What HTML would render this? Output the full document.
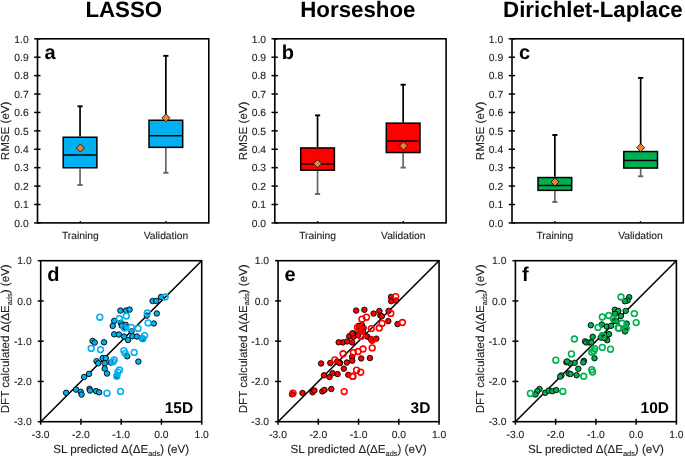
<!DOCTYPE html>
<html><head><meta charset="utf-8"><title>Figure</title>
<style>html,body{margin:0;padding:0;background:#fff;}body{width:685px;height:456px;overflow:hidden;}svg{display:block;will-change:transform;}text{font-family:"Liberation Sans", sans-serif;text-rendering:geometricPrecision;}text.r{stroke:#222;stroke-width:0.12px;}</style>
</head><body>
<svg width="685" height="456" viewBox="0 0 685 456">
<rect x="0" y="0" width="685" height="456" fill="#fff"/>
<text x="123.8" y="16.6" font-size="22.3" font-weight="bold" text-anchor="middle" fill="#000">LASSO</text>
<text x="357.9" y="16.6" font-size="22.3" font-weight="bold" text-anchor="middle" fill="#000">Horseshoe</text>
<text x="592.9" y="16.6" font-size="22.3" font-weight="bold" text-anchor="middle" fill="#000">Dirichlet-Laplace</text>
<g><line x1="80.05" y1="106.3" x2="80.05" y2="136.5" stroke="#000" stroke-width="1.7"/><line x1="77.45" y1="106.3" x2="82.65" y2="106.3" stroke="#000" stroke-width="1.9"/><line x1="80.05" y1="168.5" x2="80.05" y2="185" stroke="#666" stroke-width="1.7"/><line x1="77.45" y1="185" x2="82.65" y2="185" stroke="#666" stroke-width="1.9"/><rect x="63.2" y="137.25" width="33.7" height="30.5" fill="#00B0F0" stroke="#000" stroke-width="1.5"/><line x1="63.2" y1="154.9" x2="96.9" y2="154.9" stroke="#000" stroke-width="1.5"/><path d="M80.3 144L84.3 148L80.3 152L76.3 148Z" fill="#F5821F" stroke="#1a1a1a" stroke-width="0.9"/><line x1="165.85" y1="55.85" x2="165.85" y2="119.5" stroke="#000" stroke-width="1.7"/><line x1="163.25" y1="55.85" x2="168.45" y2="55.85" stroke="#000" stroke-width="1.9"/><line x1="165.85" y1="148.1" x2="165.85" y2="172.8" stroke="#666" stroke-width="1.7"/><line x1="163.25" y1="172.8" x2="168.45" y2="172.8" stroke="#666" stroke-width="1.9"/><rect x="149" y="120.25" width="33.7" height="27.1" fill="#00B0F0" stroke="#000" stroke-width="1.5"/><line x1="149" y1="135.8" x2="182.7" y2="135.8" stroke="#000" stroke-width="1.5"/><path d="M165.9 113.8L169.9 117.8L165.9 121.8L161.9 117.8Z" fill="#F5821F" stroke="#1a1a1a" stroke-width="0.9"/><rect x="37.5" y="38.8" width="171.3" height="184.1" fill="none" stroke="#000" stroke-width="1.6"/><line x1="34.2" y1="222.9" x2="40.5" y2="222.9" stroke="#000" stroke-width="1.5"/><text x="28.7" y="226.6" font-size="10.3" text-anchor="end" class="r" fill="#222">0.0</text><line x1="34.2" y1="204.49" x2="40.5" y2="204.49" stroke="#000" stroke-width="1.5"/><text x="28.7" y="208.19" font-size="10.3" text-anchor="end" class="r" fill="#222">0.1</text><line x1="34.2" y1="186.08" x2="40.5" y2="186.08" stroke="#000" stroke-width="1.5"/><text x="28.7" y="189.78" font-size="10.3" text-anchor="end" class="r" fill="#222">0.2</text><line x1="34.2" y1="167.67" x2="40.5" y2="167.67" stroke="#000" stroke-width="1.5"/><text x="28.7" y="171.37" font-size="10.3" text-anchor="end" class="r" fill="#222">0.3</text><line x1="34.2" y1="149.26" x2="40.5" y2="149.26" stroke="#000" stroke-width="1.5"/><text x="28.7" y="152.96" font-size="10.3" text-anchor="end" class="r" fill="#222">0.4</text><line x1="34.2" y1="130.85" x2="40.5" y2="130.85" stroke="#000" stroke-width="1.5"/><text x="28.7" y="134.55" font-size="10.3" text-anchor="end" class="r" fill="#222">0.5</text><line x1="34.2" y1="112.44" x2="40.5" y2="112.44" stroke="#000" stroke-width="1.5"/><text x="28.7" y="116.14" font-size="10.3" text-anchor="end" class="r" fill="#222">0.6</text><line x1="34.2" y1="94.03" x2="40.5" y2="94.03" stroke="#000" stroke-width="1.5"/><text x="28.7" y="97.73" font-size="10.3" text-anchor="end" class="r" fill="#222">0.7</text><line x1="34.2" y1="75.62" x2="40.5" y2="75.62" stroke="#000" stroke-width="1.5"/><text x="28.7" y="79.32" font-size="10.3" text-anchor="end" class="r" fill="#222">0.8</text><line x1="34.2" y1="57.21" x2="40.5" y2="57.21" stroke="#000" stroke-width="1.5"/><text x="28.7" y="60.91" font-size="10.3" text-anchor="end" class="r" fill="#222">0.9</text><line x1="34.2" y1="38.8" x2="40.5" y2="38.8" stroke="#000" stroke-width="1.5"/><text x="28.7" y="42.5" font-size="10.3" text-anchor="end" class="r" fill="#222">1.0</text><line x1="80.33" y1="221.1" x2="80.33" y2="222.9" stroke="#000" stroke-width="1.4"/><line x1="165.98" y1="221.1" x2="165.98" y2="222.9" stroke="#000" stroke-width="1.4"/><text x="80.33" y="239" font-size="10.3" text-anchor="middle" class="r" fill="#222">Training</text><text x="165.98" y="239" font-size="10.3" text-anchor="middle" class="r" fill="#222">Validation</text><text transform="translate(9.2 130.85) rotate(-90)" font-size="11.6" text-anchor="middle" class="r" fill="#222">RMSE (eV)</text><text x="44.4" y="59.4" font-size="20" font-weight="bold" fill="#000">a</text></g>
<g><line x1="317.55" y1="115.35" x2="317.55" y2="147.2" stroke="#000" stroke-width="1.7"/><line x1="314.95" y1="115.35" x2="320.15" y2="115.35" stroke="#000" stroke-width="1.9"/><line x1="317.55" y1="170.9" x2="317.55" y2="194" stroke="#666" stroke-width="1.7"/><line x1="314.95" y1="194" x2="320.15" y2="194" stroke="#666" stroke-width="1.9"/><rect x="300.7" y="147.95" width="33.7" height="22.2" fill="#FF0000" stroke="#000" stroke-width="1.5"/><line x1="300.7" y1="163.9" x2="334.4" y2="163.9" stroke="#000" stroke-width="1.5"/><path d="M317.5 159.7L321.5 163.7L317.5 167.7L313.5 163.7Z" fill="#F5821F" stroke="#1a1a1a" stroke-width="0.9"/><line x1="403.15" y1="84.7" x2="403.15" y2="122.4" stroke="#000" stroke-width="1.7"/><line x1="400.55" y1="84.7" x2="405.75" y2="84.7" stroke="#000" stroke-width="1.9"/><line x1="403.15" y1="153.3" x2="403.15" y2="167.6" stroke="#666" stroke-width="1.7"/><line x1="400.55" y1="167.6" x2="405.75" y2="167.6" stroke="#666" stroke-width="1.9"/><rect x="386.3" y="123.15" width="33.7" height="29.4" fill="#FF0000" stroke="#000" stroke-width="1.5"/><line x1="386.3" y1="141" x2="420" y2="141" stroke="#000" stroke-width="1.5"/><path d="M403.5 141.9L407.5 145.9L403.5 149.9L399.5 145.9Z" fill="#F5821F" stroke="#1a1a1a" stroke-width="0.9"/><rect x="274.8" y="38.8" width="171.3" height="184.1" fill="none" stroke="#000" stroke-width="1.6"/><line x1="271.5" y1="222.9" x2="277.8" y2="222.9" stroke="#000" stroke-width="1.5"/><text x="266" y="226.6" font-size="10.3" text-anchor="end" class="r" fill="#222">0.0</text><line x1="271.5" y1="204.49" x2="277.8" y2="204.49" stroke="#000" stroke-width="1.5"/><text x="266" y="208.19" font-size="10.3" text-anchor="end" class="r" fill="#222">0.1</text><line x1="271.5" y1="186.08" x2="277.8" y2="186.08" stroke="#000" stroke-width="1.5"/><text x="266" y="189.78" font-size="10.3" text-anchor="end" class="r" fill="#222">0.2</text><line x1="271.5" y1="167.67" x2="277.8" y2="167.67" stroke="#000" stroke-width="1.5"/><text x="266" y="171.37" font-size="10.3" text-anchor="end" class="r" fill="#222">0.3</text><line x1="271.5" y1="149.26" x2="277.8" y2="149.26" stroke="#000" stroke-width="1.5"/><text x="266" y="152.96" font-size="10.3" text-anchor="end" class="r" fill="#222">0.4</text><line x1="271.5" y1="130.85" x2="277.8" y2="130.85" stroke="#000" stroke-width="1.5"/><text x="266" y="134.55" font-size="10.3" text-anchor="end" class="r" fill="#222">0.5</text><line x1="271.5" y1="112.44" x2="277.8" y2="112.44" stroke="#000" stroke-width="1.5"/><text x="266" y="116.14" font-size="10.3" text-anchor="end" class="r" fill="#222">0.6</text><line x1="271.5" y1="94.03" x2="277.8" y2="94.03" stroke="#000" stroke-width="1.5"/><text x="266" y="97.73" font-size="10.3" text-anchor="end" class="r" fill="#222">0.7</text><line x1="271.5" y1="75.62" x2="277.8" y2="75.62" stroke="#000" stroke-width="1.5"/><text x="266" y="79.32" font-size="10.3" text-anchor="end" class="r" fill="#222">0.8</text><line x1="271.5" y1="57.21" x2="277.8" y2="57.21" stroke="#000" stroke-width="1.5"/><text x="266" y="60.91" font-size="10.3" text-anchor="end" class="r" fill="#222">0.9</text><line x1="271.5" y1="38.8" x2="277.8" y2="38.8" stroke="#000" stroke-width="1.5"/><text x="266" y="42.5" font-size="10.3" text-anchor="end" class="r" fill="#222">1.0</text><line x1="317.62" y1="221.1" x2="317.62" y2="222.9" stroke="#000" stroke-width="1.4"/><line x1="403.28" y1="221.1" x2="403.28" y2="222.9" stroke="#000" stroke-width="1.4"/><text x="317.62" y="239" font-size="10.3" text-anchor="middle" class="r" fill="#222">Training</text><text x="403.28" y="239" font-size="10.3" text-anchor="middle" class="r" fill="#222">Validation</text><text transform="translate(246.5 130.85) rotate(-90)" font-size="11.6" text-anchor="middle" class="r" fill="#222">RMSE (eV)</text><text x="281.7" y="59.4" font-size="20" font-weight="bold" fill="#000">b</text></g>
<g><line x1="554.85" y1="135" x2="554.85" y2="176.8" stroke="#000" stroke-width="1.7"/><line x1="552.25" y1="135" x2="557.45" y2="135" stroke="#000" stroke-width="1.9"/><line x1="554.85" y1="191.1" x2="554.85" y2="202" stroke="#666" stroke-width="1.7"/><line x1="552.25" y1="202" x2="557.45" y2="202" stroke="#666" stroke-width="1.9"/><rect x="538" y="177.55" width="33.7" height="12.8" fill="#00B050" stroke="#000" stroke-width="1.5"/><line x1="538" y1="185.5" x2="571.7" y2="185.5" stroke="#000" stroke-width="1.5"/><path d="M555 178L559 182L555 186L551 182Z" fill="#F5821F" stroke="#1a1a1a" stroke-width="0.9"/><line x1="640.65" y1="77.9" x2="640.65" y2="150.8" stroke="#000" stroke-width="1.7"/><line x1="638.05" y1="77.9" x2="643.25" y2="77.9" stroke="#000" stroke-width="1.9"/><line x1="640.65" y1="168.8" x2="640.65" y2="176.3" stroke="#666" stroke-width="1.7"/><line x1="638.05" y1="176.3" x2="643.25" y2="176.3" stroke="#666" stroke-width="1.9"/><rect x="623.8" y="151.55" width="33.7" height="16.5" fill="#00B050" stroke="#000" stroke-width="1.5"/><line x1="623.8" y1="160.5" x2="657.5" y2="160.5" stroke="#000" stroke-width="1.5"/><path d="M640.7 143.7L644.7 147.7L640.7 151.7L636.7 147.7Z" fill="#F5821F" stroke="#1a1a1a" stroke-width="0.9"/><rect x="512" y="38.8" width="171.3" height="184.1" fill="none" stroke="#000" stroke-width="1.6"/><line x1="508.7" y1="222.9" x2="515" y2="222.9" stroke="#000" stroke-width="1.5"/><text x="503.2" y="226.6" font-size="10.3" text-anchor="end" class="r" fill="#222">0.0</text><line x1="508.7" y1="204.49" x2="515" y2="204.49" stroke="#000" stroke-width="1.5"/><text x="503.2" y="208.19" font-size="10.3" text-anchor="end" class="r" fill="#222">0.1</text><line x1="508.7" y1="186.08" x2="515" y2="186.08" stroke="#000" stroke-width="1.5"/><text x="503.2" y="189.78" font-size="10.3" text-anchor="end" class="r" fill="#222">0.2</text><line x1="508.7" y1="167.67" x2="515" y2="167.67" stroke="#000" stroke-width="1.5"/><text x="503.2" y="171.37" font-size="10.3" text-anchor="end" class="r" fill="#222">0.3</text><line x1="508.7" y1="149.26" x2="515" y2="149.26" stroke="#000" stroke-width="1.5"/><text x="503.2" y="152.96" font-size="10.3" text-anchor="end" class="r" fill="#222">0.4</text><line x1="508.7" y1="130.85" x2="515" y2="130.85" stroke="#000" stroke-width="1.5"/><text x="503.2" y="134.55" font-size="10.3" text-anchor="end" class="r" fill="#222">0.5</text><line x1="508.7" y1="112.44" x2="515" y2="112.44" stroke="#000" stroke-width="1.5"/><text x="503.2" y="116.14" font-size="10.3" text-anchor="end" class="r" fill="#222">0.6</text><line x1="508.7" y1="94.03" x2="515" y2="94.03" stroke="#000" stroke-width="1.5"/><text x="503.2" y="97.73" font-size="10.3" text-anchor="end" class="r" fill="#222">0.7</text><line x1="508.7" y1="75.62" x2="515" y2="75.62" stroke="#000" stroke-width="1.5"/><text x="503.2" y="79.32" font-size="10.3" text-anchor="end" class="r" fill="#222">0.8</text><line x1="508.7" y1="57.21" x2="515" y2="57.21" stroke="#000" stroke-width="1.5"/><text x="503.2" y="60.91" font-size="10.3" text-anchor="end" class="r" fill="#222">0.9</text><line x1="508.7" y1="38.8" x2="515" y2="38.8" stroke="#000" stroke-width="1.5"/><text x="503.2" y="42.5" font-size="10.3" text-anchor="end" class="r" fill="#222">1.0</text><line x1="554.83" y1="221.1" x2="554.83" y2="222.9" stroke="#000" stroke-width="1.4"/><line x1="640.48" y1="221.1" x2="640.48" y2="222.9" stroke="#000" stroke-width="1.4"/><text x="554.83" y="239" font-size="10.3" text-anchor="middle" class="r" fill="#222">Training</text><text x="640.48" y="239" font-size="10.3" text-anchor="middle" class="r" fill="#222">Validation</text><text transform="translate(483.7 130.85) rotate(-90)" font-size="11.6" text-anchor="middle" class="r" fill="#222">RMSE (eV)</text><text x="518.9" y="59.4" font-size="20" font-weight="bold" fill="#000">c</text></g>
<g><line x1="40.7" y1="421.7" x2="201.7" y2="260.7" stroke="#000" stroke-width="1.6"/><g fill="#00B0F0" stroke="#000" stroke-width="0.9"><circle cx="152.6" cy="301" r="2.75"/><circle cx="156.3" cy="301" r="2.75"/><circle cx="161" cy="297" r="2.75"/><circle cx="156.8" cy="313.5" r="2.75"/><circle cx="146.8" cy="315.6" r="2.75"/><circle cx="153.8" cy="323.5" r="2.75"/><circle cx="120.4" cy="310.6" r="2.75"/><circle cx="126.1" cy="310.5" r="2.75"/><circle cx="129.6" cy="309.6" r="2.75"/><circle cx="114.2" cy="320.9" r="2.75"/><circle cx="112.7" cy="325.9" r="2.75"/><circle cx="120.8" cy="322.8" r="2.75"/><circle cx="121.7" cy="325.6" r="2.75"/><circle cx="125.7" cy="324.8" r="2.75"/><circle cx="124.6" cy="327.4" r="2.75"/><circle cx="126" cy="327.6" r="2.75"/><circle cx="131.5" cy="331.4" r="2.75"/><circle cx="114.2" cy="334.3" r="2.75"/><circle cx="118.8" cy="334.5" r="2.75"/><circle cx="124.1" cy="336.6" r="2.75"/><circle cx="128" cy="340" r="2.75"/><circle cx="132.4" cy="336.2" r="2.75"/><circle cx="136.9" cy="336.5" r="2.75"/><circle cx="141.9" cy="338.4" r="2.75"/><circle cx="104" cy="342.3" r="2.75"/><circle cx="92.6" cy="340.9" r="2.75"/><circle cx="94.7" cy="342.6" r="2.75"/><circle cx="102.6" cy="358.1" r="2.75"/><circle cx="105.8" cy="358.1" r="2.75"/><circle cx="96.5" cy="361.2" r="2.75"/><circle cx="98.2" cy="363.3" r="2.75"/><circle cx="104.7" cy="363.3" r="2.75"/><circle cx="110.7" cy="362.5" r="2.75"/><circle cx="104.7" cy="368.6" r="2.75"/><circle cx="107" cy="373.5" r="2.75"/><circle cx="89" cy="373.9" r="2.75"/><circle cx="84.2" cy="377" r="2.75"/><circle cx="76" cy="389.6" r="2.75"/><circle cx="80.7" cy="391.8" r="2.75"/><circle cx="81.6" cy="394.6" r="2.75"/><circle cx="89.5" cy="388.8" r="2.75"/><circle cx="90" cy="390.5" r="2.75"/><circle cx="96" cy="391.1" r="2.75"/><circle cx="99.1" cy="392.3" r="2.75"/><circle cx="66.1" cy="392.8" r="2.75"/><circle cx="127.2" cy="356.3" r="2.75"/><circle cx="138.4" cy="361.6" r="2.75"/><circle cx="117" cy="375.6" r="2.75"/></g><g fill="none" stroke="#00B0F0" stroke-width="1.6"><circle cx="165.2" cy="297" r="2.9"/><circle cx="147.3" cy="313" r="2.9"/><circle cx="148.1" cy="322.9" r="2.9"/><circle cx="126.3" cy="316" r="2.9"/><circle cx="119.4" cy="318.6" r="2.9"/><circle cx="124.5" cy="328" r="2.9"/><circle cx="131.3" cy="327.4" r="2.9"/><circle cx="138.1" cy="328.4" r="2.9"/><circle cx="144.6" cy="335.6" r="2.9"/><circle cx="142.8" cy="338.8" r="2.9"/><circle cx="99.8" cy="317.2" r="2.9"/><circle cx="91.2" cy="348.4" r="2.9"/><circle cx="100.5" cy="349.6" r="2.9"/><circle cx="114.2" cy="360" r="2.9"/><circle cx="112.8" cy="361.9" r="2.9"/><circle cx="123.9" cy="350.7" r="2.9"/><circle cx="125.3" cy="353.4" r="2.9"/><circle cx="134.2" cy="352.4" r="2.9"/><circle cx="119.5" cy="370" r="2.9"/><circle cx="117.9" cy="372.1" r="2.9"/><circle cx="116.8" cy="376.2" r="2.9"/><circle cx="107" cy="393.2" r="2.9"/><circle cx="120.5" cy="391.4" r="2.9"/></g><rect x="40.7" y="260.7" width="161" height="161" fill="none" stroke="#000" stroke-width="1.6"/><line x1="37.7" y1="421.7" x2="40.7" y2="421.7" stroke="#000" stroke-width="1.5"/><text x="31.7" y="425.4" font-size="10.3" text-anchor="end" class="r" fill="#222">-3.0</text><line x1="40.7" y1="421.7" x2="40.7" y2="424.7" stroke="#000" stroke-width="1.5"/><text x="40.7" y="437.6" font-size="10.3" text-anchor="middle" class="r" fill="#222">-3.0</text><line x1="37.7" y1="381.45" x2="43.7" y2="381.45" stroke="#000" stroke-width="1.5"/><text x="31.7" y="385.15" font-size="10.3" text-anchor="end" class="r" fill="#222">-2.0</text><line x1="80.95" y1="418.7" x2="80.95" y2="424.7" stroke="#000" stroke-width="1.5"/><text x="80.95" y="437.6" font-size="10.3" text-anchor="middle" class="r" fill="#222">-2.0</text><line x1="37.7" y1="341.2" x2="43.7" y2="341.2" stroke="#000" stroke-width="1.5"/><text x="31.7" y="344.9" font-size="10.3" text-anchor="end" class="r" fill="#222">-1.0</text><line x1="121.2" y1="418.7" x2="121.2" y2="424.7" stroke="#000" stroke-width="1.5"/><text x="121.2" y="437.6" font-size="10.3" text-anchor="middle" class="r" fill="#222">-1.0</text><line x1="37.7" y1="300.95" x2="43.7" y2="300.95" stroke="#000" stroke-width="1.5"/><text x="31.7" y="304.65" font-size="10.3" text-anchor="end" class="r" fill="#222">0.0</text><line x1="161.45" y1="418.7" x2="161.45" y2="424.7" stroke="#000" stroke-width="1.5"/><text x="161.45" y="437.6" font-size="10.3" text-anchor="middle" class="r" fill="#222">0.0</text><line x1="37.7" y1="260.7" x2="40.7" y2="260.7" stroke="#000" stroke-width="1.5"/><text x="31.7" y="264.4" font-size="10.3" text-anchor="end" class="r" fill="#222">1.0</text><line x1="201.7" y1="421.7" x2="201.7" y2="424.7" stroke="#000" stroke-width="1.5"/><text x="201.7" y="437.6" font-size="10.3" text-anchor="middle" class="r" fill="#222">1.0</text><text x="121.2" y="452.9" font-size="11.6" text-anchor="middle" class="r" fill="#222">SL predicted &#916;(&#916;E<tspan font-size="7.4" dy="2.6">ads</tspan><tspan dy="-2.6">)</tspan> (eV)</text><text transform="translate(9.2 338.8) rotate(-90)" font-size="11.6" text-anchor="middle" class="r" fill="#222">DFT calculated &#916;(&#916;E<tspan font-size="7.4" dy="2.6">ads</tspan><tspan dy="-2.6">)</tspan> (eV)</text><text x="47.2" y="281.2" font-size="20" font-weight="bold" fill="#000">d</text><text x="193.1" y="412.6" font-size="15.5" font-weight="bold" text-anchor="end" fill="#000">15D</text></g>
<g><line x1="278.05" y1="421.7" x2="439.05" y2="260.7" stroke="#000" stroke-width="1.6"/><g fill="#FF0000" stroke="#000" stroke-width="0.9"><circle cx="391" cy="296.9" r="2.75"/><circle cx="391.2" cy="301.2" r="2.75"/><circle cx="395.9" cy="300.6" r="2.75"/><circle cx="356.2" cy="310.6" r="2.75"/><circle cx="364.4" cy="309.8" r="2.75"/><circle cx="373.6" cy="313.6" r="2.75"/><circle cx="379.4" cy="311" r="2.75"/><circle cx="380.3" cy="315.4" r="2.75"/><circle cx="381.8" cy="316.3" r="2.75"/><circle cx="388.6" cy="310.9" r="2.75"/><circle cx="388.3" cy="321.1" r="2.75"/><circle cx="397.5" cy="324.1" r="2.75"/><circle cx="358.6" cy="325.8" r="2.75"/><circle cx="361.9" cy="325" r="2.75"/><circle cx="363.6" cy="328" r="2.75"/><circle cx="363" cy="331.8" r="2.75"/><circle cx="359.7" cy="331.2" r="2.75"/><circle cx="353.2" cy="333.4" r="2.75"/><circle cx="349.3" cy="336.2" r="2.75"/><circle cx="353.7" cy="336.7" r="2.75"/><circle cx="358.1" cy="335.1" r="2.75"/><circle cx="352.3" cy="333.4" r="2.75"/><circle cx="367.2" cy="336.6" r="2.75"/><circle cx="370.7" cy="339" r="2.75"/><circle cx="371.8" cy="340.6" r="2.75"/><circle cx="376.3" cy="338.7" r="2.75"/><circle cx="342.9" cy="342.4" r="2.75"/><circle cx="347.2" cy="341.4" r="2.75"/><circle cx="352.1" cy="342.4" r="2.75"/><circle cx="338.7" cy="342.3" r="2.75"/><circle cx="352.1" cy="356.8" r="2.75"/><circle cx="352.3" cy="360.7" r="2.75"/><circle cx="346.9" cy="362.5" r="2.75"/><circle cx="340" cy="363" r="2.75"/><circle cx="361.2" cy="358.4" r="2.75"/><circle cx="369.9" cy="358.1" r="2.75"/><circle cx="343.8" cy="368.7" r="2.75"/><circle cx="348.3" cy="374.8" r="2.75"/><circle cx="321.1" cy="363.5" r="2.75"/><circle cx="330.3" cy="363" r="2.75"/><circle cx="337.2" cy="361.5" r="2.75"/><circle cx="339.5" cy="363" r="2.75"/><circle cx="324" cy="375.3" r="2.75"/><circle cx="329.5" cy="377" r="2.75"/><circle cx="332.6" cy="373.2" r="2.75"/><circle cx="337.6" cy="374.1" r="2.75"/><circle cx="292" cy="394.3" r="2.75"/><circle cx="302.5" cy="393" r="2.75"/><circle cx="312.5" cy="392.3" r="2.75"/><circle cx="314.4" cy="390.5" r="2.75"/><circle cx="322.3" cy="391.4" r="2.75"/><circle cx="324.5" cy="389.9" r="2.75"/><circle cx="331.3" cy="389" r="2.75"/></g><g fill="none" stroke="#FF0000" stroke-width="1.6"><circle cx="395.7" cy="296.6" r="2.9"/><circle cx="390.8" cy="313.4" r="2.9"/><circle cx="402.4" cy="322.5" r="2.9"/><circle cx="382" cy="323.4" r="2.9"/><circle cx="379.3" cy="328" r="2.9"/><circle cx="366.5" cy="317.2" r="2.9"/><circle cx="362" cy="319.2" r="2.9"/><circle cx="357.5" cy="327.4" r="2.9"/><circle cx="359.2" cy="329.1" r="2.9"/><circle cx="371.3" cy="328.6" r="2.9"/><circle cx="360.9" cy="336.2" r="2.9"/><circle cx="372.2" cy="347.9" r="2.9"/><circle cx="363" cy="349" r="2.9"/><circle cx="358.1" cy="351.5" r="2.9"/><circle cx="353.4" cy="352.6" r="2.9"/><circle cx="343.1" cy="353.8" r="2.9"/><circle cx="372.2" cy="340" r="2.9"/><circle cx="361.5" cy="336.1" r="2.9"/><circle cx="334.9" cy="359.9" r="2.9"/><circle cx="356.6" cy="370.2" r="2.9"/><circle cx="360.7" cy="372.2" r="2.9"/><circle cx="353" cy="376.4" r="2.9"/><circle cx="352.5" cy="376.3" r="2.9"/><circle cx="344.2" cy="391.6" r="2.9"/><circle cx="293" cy="393.2" r="2.9"/></g><rect x="278.05" y="260.7" width="161" height="161" fill="none" stroke="#000" stroke-width="1.6"/><line x1="275.05" y1="421.7" x2="278.05" y2="421.7" stroke="#000" stroke-width="1.5"/><text x="269.05" y="425.4" font-size="10.3" text-anchor="end" class="r" fill="#222">-3.0</text><line x1="278.05" y1="421.7" x2="278.05" y2="424.7" stroke="#000" stroke-width="1.5"/><text x="278.05" y="437.6" font-size="10.3" text-anchor="middle" class="r" fill="#222">-3.0</text><line x1="275.05" y1="381.45" x2="281.05" y2="381.45" stroke="#000" stroke-width="1.5"/><text x="269.05" y="385.15" font-size="10.3" text-anchor="end" class="r" fill="#222">-2.0</text><line x1="318.3" y1="418.7" x2="318.3" y2="424.7" stroke="#000" stroke-width="1.5"/><text x="318.3" y="437.6" font-size="10.3" text-anchor="middle" class="r" fill="#222">-2.0</text><line x1="275.05" y1="341.2" x2="281.05" y2="341.2" stroke="#000" stroke-width="1.5"/><text x="269.05" y="344.9" font-size="10.3" text-anchor="end" class="r" fill="#222">-1.0</text><line x1="358.55" y1="418.7" x2="358.55" y2="424.7" stroke="#000" stroke-width="1.5"/><text x="358.55" y="437.6" font-size="10.3" text-anchor="middle" class="r" fill="#222">-1.0</text><line x1="275.05" y1="300.95" x2="281.05" y2="300.95" stroke="#000" stroke-width="1.5"/><text x="269.05" y="304.65" font-size="10.3" text-anchor="end" class="r" fill="#222">0.0</text><line x1="398.8" y1="418.7" x2="398.8" y2="424.7" stroke="#000" stroke-width="1.5"/><text x="398.8" y="437.6" font-size="10.3" text-anchor="middle" class="r" fill="#222">0.0</text><line x1="275.05" y1="260.7" x2="278.05" y2="260.7" stroke="#000" stroke-width="1.5"/><text x="269.05" y="264.4" font-size="10.3" text-anchor="end" class="r" fill="#222">1.0</text><line x1="439.05" y1="421.7" x2="439.05" y2="424.7" stroke="#000" stroke-width="1.5"/><text x="439.05" y="437.6" font-size="10.3" text-anchor="middle" class="r" fill="#222">1.0</text><text x="358.55" y="452.9" font-size="11.6" text-anchor="middle" class="r" fill="#222">SL predicted &#916;(&#916;E<tspan font-size="7.4" dy="2.6">ads</tspan><tspan dy="-2.6">)</tspan> (eV)</text><text transform="translate(246.55 338.8) rotate(-90)" font-size="11.6" text-anchor="middle" class="r" fill="#222">DFT calculated &#916;(&#916;E<tspan font-size="7.4" dy="2.6">ads</tspan><tspan dy="-2.6">)</tspan> (eV)</text><text x="284.55" y="281.2" font-size="20" font-weight="bold" fill="#000">e</text><text x="430.45" y="412.6" font-size="15.5" font-weight="bold" text-anchor="end" fill="#000">3D</text></g>
<g><line x1="515.4" y1="421.7" x2="676.4" y2="260.7" stroke="#000" stroke-width="1.6"/><g fill="#00B050" stroke="#000" stroke-width="0.9"><circle cx="629.2" cy="297.2" r="2.75"/><circle cx="627.5" cy="300.5" r="2.75"/><circle cx="624.9" cy="301.2" r="2.75"/><circle cx="614.8" cy="309.8" r="2.75"/><circle cx="618.3" cy="310.9" r="2.75"/><circle cx="625.7" cy="310.9" r="2.75"/><circle cx="615" cy="313.8" r="2.75"/><circle cx="620.9" cy="316" r="2.75"/><circle cx="614.5" cy="320.7" r="2.75"/><circle cx="616.5" cy="321.4" r="2.75"/><circle cx="626.7" cy="323.6" r="2.75"/><circle cx="625.6" cy="327.8" r="2.75"/><circle cx="625" cy="331.4" r="2.75"/><circle cx="590.8" cy="325.2" r="2.75"/><circle cx="601.8" cy="324.5" r="2.75"/><circle cx="606.8" cy="326.5" r="2.75"/><circle cx="611.1" cy="325.8" r="2.75"/><circle cx="592.7" cy="336.8" r="2.75"/><circle cx="585" cy="341.4" r="2.75"/><circle cx="586.2" cy="342.5" r="2.75"/><circle cx="589.5" cy="342.4" r="2.75"/><circle cx="591.4" cy="342.4" r="2.75"/><circle cx="602.3" cy="335.1" r="2.75"/><circle cx="600.8" cy="337.6" r="2.75"/><circle cx="607.3" cy="335.1" r="2.75"/><circle cx="609" cy="334.2" r="2.75"/><circle cx="607.2" cy="340.2" r="2.75"/><circle cx="604.5" cy="338.1" r="2.75"/><circle cx="594.5" cy="358.2" r="2.75"/><circle cx="583.9" cy="360.8" r="2.75"/><circle cx="583.3" cy="362.4" r="2.75"/><circle cx="574.7" cy="362.8" r="2.75"/><circle cx="570" cy="363.3" r="2.75"/><circle cx="566.4" cy="362.2" r="2.75"/><circle cx="567.1" cy="361.4" r="2.75"/><circle cx="578.3" cy="368.8" r="2.75"/><circle cx="561.4" cy="375.4" r="2.75"/><circle cx="560.1" cy="376.6" r="2.75"/><circle cx="568.6" cy="373.5" r="2.75"/><circle cx="570.5" cy="374" r="2.75"/><circle cx="576.6" cy="375.2" r="2.75"/><circle cx="539.5" cy="389" r="2.75"/><circle cx="537.3" cy="391.2" r="2.75"/><circle cx="535.4" cy="394.5" r="2.75"/><circle cx="545.2" cy="392.8" r="2.75"/><circle cx="548.7" cy="390.6" r="2.75"/><circle cx="552.3" cy="391.2" r="2.75"/><circle cx="556.2" cy="390.1" r="2.75"/></g><g fill="none" stroke="#00B050" stroke-width="1.6"><circle cx="621" cy="297" r="2.9"/><circle cx="634.3" cy="313.6" r="2.9"/><circle cx="636.2" cy="322.6" r="2.9"/><circle cx="602.3" cy="317" r="2.9"/><circle cx="608.8" cy="315.5" r="2.9"/><circle cx="613.4" cy="319" r="2.9"/><circle cx="622" cy="323.3" r="2.9"/><circle cx="619" cy="328.2" r="2.9"/><circle cx="626.2" cy="328.4" r="2.9"/><circle cx="598" cy="327.4" r="2.9"/><circle cx="602.9" cy="335.6" r="2.9"/><circle cx="618.2" cy="328" r="2.9"/><circle cx="574.4" cy="339" r="2.9"/><circle cx="594.7" cy="348.8" r="2.9"/><circle cx="602.3" cy="347.4" r="2.9"/><circle cx="610.5" cy="349.2" r="2.9"/><circle cx="593.8" cy="350.9" r="2.9"/><circle cx="591.8" cy="352.2" r="2.9"/><circle cx="571.4" cy="353.9" r="2.9"/><circle cx="591.8" cy="369.7" r="2.9"/><circle cx="592.5" cy="372" r="2.9"/><circle cx="583.7" cy="376.3" r="2.9"/><circle cx="555.8" cy="360.2" r="2.9"/><circle cx="530.4" cy="393.4" r="2.9"/><circle cx="562.8" cy="391.4" r="2.9"/></g><rect x="515.4" y="260.7" width="161" height="161" fill="none" stroke="#000" stroke-width="1.6"/><line x1="512.4" y1="421.7" x2="515.4" y2="421.7" stroke="#000" stroke-width="1.5"/><text x="506.4" y="425.4" font-size="10.3" text-anchor="end" class="r" fill="#222">-3.0</text><line x1="515.4" y1="421.7" x2="515.4" y2="424.7" stroke="#000" stroke-width="1.5"/><text x="515.4" y="437.6" font-size="10.3" text-anchor="middle" class="r" fill="#222">-3.0</text><line x1="512.4" y1="381.45" x2="518.4" y2="381.45" stroke="#000" stroke-width="1.5"/><text x="506.4" y="385.15" font-size="10.3" text-anchor="end" class="r" fill="#222">-2.0</text><line x1="555.65" y1="418.7" x2="555.65" y2="424.7" stroke="#000" stroke-width="1.5"/><text x="555.65" y="437.6" font-size="10.3" text-anchor="middle" class="r" fill="#222">-2.0</text><line x1="512.4" y1="341.2" x2="518.4" y2="341.2" stroke="#000" stroke-width="1.5"/><text x="506.4" y="344.9" font-size="10.3" text-anchor="end" class="r" fill="#222">-1.0</text><line x1="595.9" y1="418.7" x2="595.9" y2="424.7" stroke="#000" stroke-width="1.5"/><text x="595.9" y="437.6" font-size="10.3" text-anchor="middle" class="r" fill="#222">-1.0</text><line x1="512.4" y1="300.95" x2="518.4" y2="300.95" stroke="#000" stroke-width="1.5"/><text x="506.4" y="304.65" font-size="10.3" text-anchor="end" class="r" fill="#222">0.0</text><line x1="636.15" y1="418.7" x2="636.15" y2="424.7" stroke="#000" stroke-width="1.5"/><text x="636.15" y="437.6" font-size="10.3" text-anchor="middle" class="r" fill="#222">0.0</text><line x1="512.4" y1="260.7" x2="515.4" y2="260.7" stroke="#000" stroke-width="1.5"/><text x="506.4" y="264.4" font-size="10.3" text-anchor="end" class="r" fill="#222">1.0</text><line x1="676.4" y1="421.7" x2="676.4" y2="424.7" stroke="#000" stroke-width="1.5"/><text x="676.4" y="437.6" font-size="10.3" text-anchor="middle" class="r" fill="#222">1.0</text><text x="595.9" y="452.9" font-size="11.6" text-anchor="middle" class="r" fill="#222">SL predicted &#916;(&#916;E<tspan font-size="7.4" dy="2.6">ads</tspan><tspan dy="-2.6">)</tspan> (eV)</text><text transform="translate(483.9 338.8) rotate(-90)" font-size="11.6" text-anchor="middle" class="r" fill="#222">DFT calculated &#916;(&#916;E<tspan font-size="7.4" dy="2.6">ads</tspan><tspan dy="-2.6">)</tspan> (eV)</text><text x="521.9" y="281.2" font-size="20" font-weight="bold" fill="#000">f</text><text x="669" y="412.6" font-size="15.5" font-weight="bold" text-anchor="end" fill="#000">10D</text></g>
</svg>
</body></html>
